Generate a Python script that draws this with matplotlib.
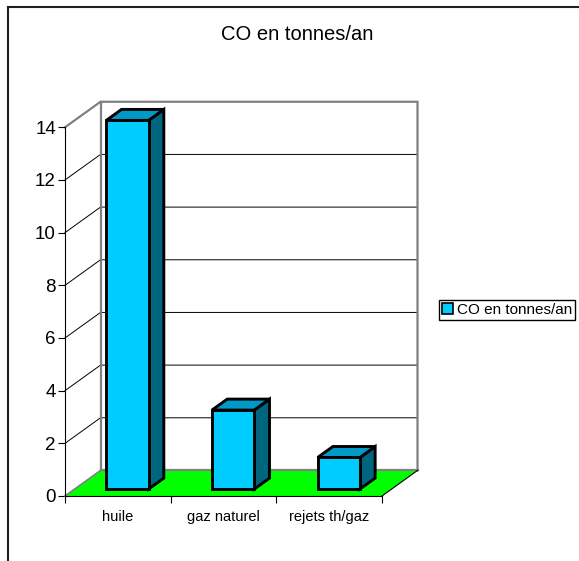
import matplotlib
matplotlib.use("Agg")
import matplotlib.pyplot as plt
from matplotlib.patches import Polygon, Patch
from matplotlib.lines import Line2D

plt.rcParams['font.family'] = ['Liberation Sans', 'DejaVu Sans']

# Data
categories = ["huile", "gaz naturel", "rejets th/gaz"]
values = [14, 3, 1.2]
series_name = "CO en tonnes/an"
title = "CO en tonnes/an"
y_ticks = [0, 2, 4, 6, 8, 10, 12, 14]

# Colours of the pseudo-3D bars and walls
FRONT = "#00CCFF"
TOP = "#0099C8"
SIDE = "#006680"
FLOOR = "#00FF00"
WALL_EDGE = "#808080"

W, H = 579, 561
fig = plt.figure(figsize=(W / 100, H / 100), dpi=100)

# Outer chart frame (left and top edges visible)
fig.add_artist(Line2D([8 / W, 8 / W], [0, 1 - 7 / H], color="#202020", lw=1.5))
fig.add_artist(Line2D([8 / W, 1], [1 - 7 / H, 1 - 7 / H], color="#202020", lw=1.5))

fig.text(297 / W, 1 - 35 / H, title, ha="center", va="center", fontsize=14.5)

# Front plane of the 3D plot area
ax = fig.add_axes([65 / W, (H - 496) / H, 317 / W, 368.7 / H])
ax.set_xlim(0, len(categories))
ax.set_ylim(0, max(y_ticks))
ax.patch.set_alpha(0)

# depth offset of the back wall, in data units
DX, DY = 0.336, 0.97
n = len(categories)
ymax = max(y_ticks)

# back wall
ax.add_patch(Polygon([(DX, DY), (n + DX, DY), (n + DX, ymax + DY), (DX, ymax + DY)],
                     closed=True, facecolor="white", edgecolor="none", zorder=0.5, clip_on=False))
# gridlines on left and back walls
for t in y_ticks[1:-1]:
    ax.plot([0, DX, n + DX], [t, t + DY, t + DY], color="black", lw=0.7, zorder=1, clip_on=False)

# wall frame
ax.plot([0, DX, n + DX, n + DX], [ymax, ymax + DY, ymax + DY, DY], color=WALL_EDGE,
        lw=1.6, zorder=1.2, clip_on=False, solid_joinstyle="miter")
ax.plot([DX, DX], [DY, ymax + DY], color=WALL_EDGE, lw=1.6, zorder=1.2, clip_on=False)

# floor
ax.add_patch(Polygon([(0, 0), (n, 0), (n + DX, DY), (DX, DY)], closed=True,
                     facecolor=FLOOR, edgecolor="none", zorder=2, clip_on=False))
ax.plot([DX, n + DX], [DY, DY], color=WALL_EDGE, lw=1.6, zorder=2.1, clip_on=False)
ax.plot([0, DX], [0, DY], color=WALL_EDGE, lw=1.2, zorder=2.1, clip_on=False)
ax.plot([n, n + DX], [0, DY], color="black", lw=0.8, zorder=2.1, clip_on=False)

# bars
bar_w = 0.4
f0, f1 = 0.27, 0.70
edge_kw = dict(edgecolor="black", lw=2.1, joinstyle="miter", clip_on=False, zorder=3)
for i, v in enumerate(values):
    xl = i + 0.5 - bar_w / 2
    xr = i + 0.5 + bar_w / 2
    ox0, oy0 = f0 * DX, f0 * DY
    ox1, oy1 = f1 * DX, f1 * DY
    side = [(xr + ox0, oy0), (xr + ox1, oy1), (xr + ox1, v + oy1), (xr + ox0, v + oy0)]
    top = [(xl + ox0, v + oy0), (xr + ox0, v + oy0), (xr + ox1, v + oy1), (xl + ox1, v + oy1)]
    front = [(xl + ox0, oy0), (xr + ox0, oy0), (xr + ox0, v + oy0), (xl + ox0, v + oy0)]
    ax.add_patch(Polygon(side, closed=True, facecolor=SIDE, **edge_kw))
    ax.add_patch(Polygon(top, closed=True, facecolor=TOP, **edge_kw))
    ax.add_patch(Polygon(front, closed=True, facecolor=FRONT, **edge_kw))

# axes
for s in ["top", "right"]:
    ax.spines[s].set_visible(False)
ax.spines["left"].set_color("black")
ax.spines["left"].set_linewidth(0.8)
ax.spines["bottom"].set_color("black")
ax.spines["bottom"].set_linewidth(0.8)
ax.spines["bottom"].set_zorder(2.2)

ax.set_yticks(y_ticks)
ax.set_yticklabels([str(t) for t in y_ticks])
ax.tick_params(axis="y", direction="out", length=5, width=0.8, pad=1.5, labelsize=13.5)

ax.set_xticks(range(n + 1))
ax.set_xticklabels([""] * (n + 1))
ax.set_xticks([i + 0.5 for i in range(n)], minor=True)
ax.set_xticklabels(categories, minor=True)
ax.tick_params(axis="x", which="major", direction="out", length=5, width=0.8)
ax.tick_params(axis="x", which="minor", length=0, pad=10, labelsize=10.5)

# legend
fig.legend(handles=[Patch(facecolor=FRONT, edgecolor="black", lw=1.2)], labels=[series_name],
           loc="center left", bbox_to_anchor=(439 / W, 1 - 310 / H), bbox_transform=fig.transFigure,
           fontsize=11, frameon=True, fancybox=False, framealpha=1, edgecolor="black",
           handlelength=0.7, handleheight=0.7, handletextpad=0.25, borderpad=0.2,
           borderaxespad=0)

fig.savefig("out.png", dpi=100)
